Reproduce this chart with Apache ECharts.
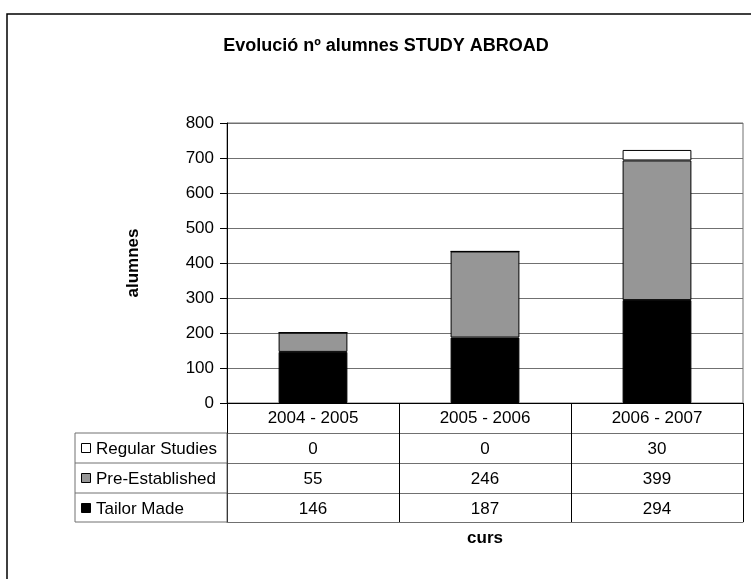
<!DOCTYPE html>
<html>
<head>
<meta charset="utf-8">
<script src="https://cdn.jsdelivr.net/npm/echarts@6/dist/echarts.min.js"></script>
<style>
html,body{margin:0;padding:0;background:#fff;}
#chart{width:751px;height:579px;}
</style>
</head>
<body>
<div id="chart"></div>
<script>
// ---- data ----
const categories = ['2004 - 2005', '2005 - 2006', '2006 - 2007'];
const seriesNames = ['Regular Studies', 'Pre-Established', 'Tailor Made'];
const regularStudies = [0, 0, 30];
const preEstablished = [55, 246, 399];
const tailorMade = [146, 187, 294];
const yMin = 0, yMax = 800, yInterval = 100;
const titleText = 'Evolució nº alumnes STUDY ABROAD';
const yName = 'alumnes';
const xName = 'curs';

// ---- layout / style ----
const FONT = '"Liberation Sans", Arial, sans-serif';
const FS = 17;
const colors = {'Regular Studies': '#ffffff', 'Pre-Established': '#969696', 'Tailor Made': '#000000'};
const gridLeft = 227, gridRight = 8, gridTop = 123, gridBottom = 176;
const H = 579;
const axisY = H - gridBottom;          // y of 0 line
const rowH = [30, 30, 30, 29];         // header row + 3 data rows
const tableLeft = 75;
const rowValues = [regularStudies, preEstablished, tailorMade];

const chart = echarts.init(document.getElementById('chart'), null, {renderer: 'canvas'});

const xAxes = [];
let off = 0;
xAxes.push({
  type: 'category', data: categories, position: 'bottom', offset: 0,
  axisLine: {show: true, lineStyle: {color: '#000', width: 1}},
  axisTick: {show: true, length: rowH[0], lineStyle: {color: '#000'}},
  axisLabel: {margin: 7, fontSize: FS, color: '#000', fontFamily: FONT},
  splitLine: {show: false}
});
off += rowH[0];
rowValues.forEach((vals, r) => {
  xAxes.push({
    type: 'category', data: categories, position: 'bottom', offset: off,
    axisLine: {show: true, lineStyle: {color: '#707070', width: 1}},
    axisTick: {show: true, length: rowH[r + 1], lineStyle: {color: '#000'}},
    axisLabel: {margin: 8, fontSize: FS, color: '#000', fontFamily: FONT,
      formatter: (v, i) => String(vals[i])},
    splitLine: {show: false}
  });
  off += rowH[r + 1];
});
xAxes.push({
  type: 'category', data: categories, position: 'bottom', offset: off,
  axisLine: {show: true, lineStyle: {color: '#707070', width: 1}},
  axisTick: {show: false}, axisLabel: {show: false},
  name: xName, nameLocation: 'middle', nameGap: 8,
  nameTextStyle: {fontSize: FS, fontWeight: 'bold', color: '#000', fontFamily: FONT, verticalAlign: 'top'}
});

const graphics = [];
const tTop = axisY + rowH[0];
const tBottom = axisY + rowH[0] + rowH[1] + rowH[2] + rowH[3];
graphics.push({type: 'rect', shape: {x: tableLeft, y: tTop, width: gridLeft - tableLeft, height: tBottom - tTop},
  style: {fill: 'none', stroke: '#707070', lineWidth: 1}, z: 10});
let yy = tTop;
seriesNames.forEach((name, r) => {
  const h = rowH[r + 1];
  if (r > 0) {
    graphics.push({type: 'line', shape: {x1: tableLeft, y1: yy, x2: gridLeft, y2: yy},
      style: {stroke: '#707070', lineWidth: 1}, z: 10});
  }
  const cy = yy + h / 2;
  graphics.push({type: 'rect', shape: {x: 81.5, y: Math.round(cy - 5) + 0.5, width: 9, height: 9},
    style: {fill: colors[name], stroke: '#000', lineWidth: 1}, z: 10});
  graphics.push({type: 'text', x: 96, y: cy + 1.5,
    style: {text: name, font: FS + 'px ' + FONT, fill: '#000', textVerticalAlign: 'middle', textAlign: 'left'}, z: 10});
  yy += h;
});
graphics.push({type: 'text', x: 386, y: 46,
  style: {text: titleText, font: 'bold 18px ' + FONT, fill: '#000', textAlign: 'center', textVerticalAlign: 'middle'}});
graphics.push({type: 'rect', shape: {x: 7, y: 14, width: 800, height: 700},
  style: {fill: 'none', stroke: '#000', lineWidth: 1.5}, z: -1});

const option = {
  animation: false,
  backgroundColor: '#fff',
  grid: {left: gridLeft, right: gridRight, top: gridTop, bottom: gridBottom,
    show: true, borderColor: '#707070', borderWidth: 1, containLabel: false},
  xAxis: xAxes,
  yAxis: {
    type: 'value', min: yMin, max: yMax, interval: yInterval,
    axisLine: {show: true, lineStyle: {color: '#000', width: 1}},
    axisTick: {show: true, length: 7, lineStyle: {color: '#000'}},
    axisLabel: {margin: 13, fontSize: FS, color: '#000', fontFamily: FONT},
    splitLine: {show: true, lineStyle: {color: '#707070', width: 1}},
    name: yName, nameLocation: 'middle', nameGap: 85, nameRotate: 90,
    nameTextStyle: {fontSize: 17, fontWeight: 'bold', color: '#000', fontFamily: FONT}
  },
  series: [
    {name: 'Tailor Made', type: 'bar', stack: 'total', data: tailorMade, xAxisIndex: 0, barWidth: '40%',
      itemStyle: {color: colors['Tailor Made'], borderColor: '#000', borderWidth: 1}},
    {name: 'Pre-Established', type: 'bar', stack: 'total', data: preEstablished, xAxisIndex: 0, barWidth: '40%',
      itemStyle: {color: colors['Pre-Established'], borderColor: '#000', borderWidth: 1}},
    {name: 'Regular Studies', type: 'bar', stack: 'total', data: regularStudies, xAxisIndex: 0, barWidth: '40%',
      itemStyle: {color: colors['Regular Studies'], borderColor: '#000', borderWidth: 1}}
  ],
  graphic: graphics
};
chart.setOption(option);
</script>
</body>
</html>
